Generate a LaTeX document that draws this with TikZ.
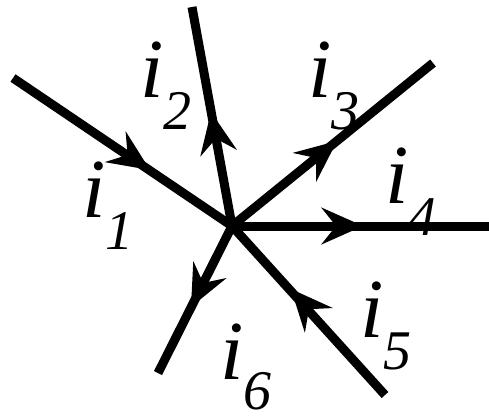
\documentclass[tikz,border=0pt]{standalone}
\usepackage{fontspec}
\setmainfont{Liberation Serif}
\usetikzlibrary{calc}
\begin{document}
\begin{tikzpicture}[x=1pt,y=-1pt,
  wire/.style={line width=9pt, line cap=butt},
  lab/.style={anchor=base west, inner sep=0pt, outer sep=0pt}]
\useasboundingbox (0,0) rectangle (489,416);
\coordinate (c) at (232,226);
\coordinate (e1) at (13,78);   \coordinate (t1) at (150,170);
\coordinate (e2) at (192,7);   \coordinate (t2) at (211,112);
\coordinate (e3) at (433,63);  \coordinate (t3) at (337,141);
\coordinate (e4) at (489,226); \coordinate (t4) at (363,226);
\coordinate (e5) at (385,395); \coordinate (t5) at (291,289);
\coordinate (e6) at (158,373); \coordinate (t6) at (191,307);
\foreach \k in {1,...,6} {\draw[wire] (e\k) -- (c);}
% arrowhead: tip at #1, pointing away from #2
\newcommand{\ahead}[2]{\fill (#1) -- ($(#1)!46pt!24:(#2)$) -- ($(#1)!27pt!(#2)$) -- ($(#1)!46pt!-24:(#2)$) -- cycle;}
% inward
\ahead{t1}{e1}
\ahead{t5}{e5}
% outward
\ahead{t2}{c}
\ahead{t3}{c}
\ahead{t4}{c}
\ahead{t6}{c}
\newcommand{\curlab}[2][32pt]{{\fontsize{84}{84}\selectfont\itshape i\raisebox{-#1}{\fontsize{56}{56}\selectfont #2}}}
\node[lab] (l1) at (82,217) {\curlab{1}};
\node[lab] (l2) at (140,97) {\curlab{2}};
\node[lab] (l3) at (308,97) {\curlab{3}};
\node[lab] (l4) at (385,203) {\curlab{4}};
\node[lab] (l5) at (360,337) {\curlab{5}};
\node[lab] (l6) at (220,379) {\curlab[30pt]{6}};
\end{tikzpicture}
\end{document}
